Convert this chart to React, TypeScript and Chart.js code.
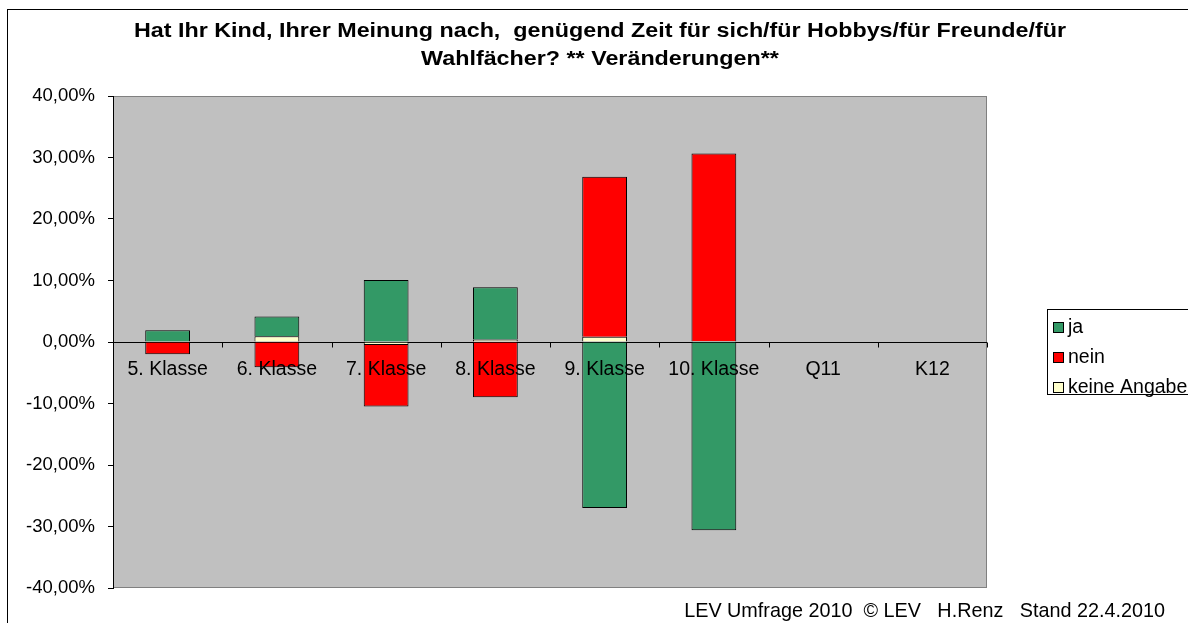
import React, { useEffect, useRef } from "react";
import { Chart, registerables } from "chart.js";
Chart.register(...registerables);

const categories = ["5. Klasse", "6. Klasse", "7. Klasse", "8. Klasse", "9. Klasse", "10. Klasse", "Q11", "K12"];
const jaValues = [0.019, 0.032, 0.101, 0.085, -0.27, -0.306, null, null];
const neinValues = [-0.02, -0.041, -0.1, -0.09, 0.26, 0.305, null, null];
const keineAngabeValues = [0.0, 0.0095, -0.005, 0.004, 0.0086, 0.0015, null, null];
const seriesNames = ["ja", "nein", "keine Angabe"];
const seriesColors = ["#339966", "#FF0000", "#FFFFCC"];
const titleLines = [
  "Hat Ihr Kind, Ihrer Meinung nach,  genügend Zeit für sich/für Hobbys/für Freunde/für",
  "Wahlfächer? ** Veränderungen**",
];
const footerText = "LEV Umfrage 2010  © LEV   H.Renz   Stand 22.4.2010";
const yMin = -0.4;
const yMax = 0.4;
const yStep = 0.1;

const FONT = '"Liberation Sans", Arial, sans-serif';

function fmtPct(v: number): string {
  const r = Math.round(v * 10000) / 100;
  const s = (r === 0 ? 0 : r).toFixed(2).replace(".", ",");
  return s + "%";
}

function stretchedText(ctx: any, text: string, x: number, y: number, sx: number) {
  ctx.save();
  ctx.translate(x, y);
  ctx.scale(sx, 1);
  ctx.fillText(text, 0, 0);
  ctx.restore();
}

const decorPlugin = {
  id: "excelDecor",
  beforeDraw(chart: any) {
    const { ctx, chartArea: a } = chart;
    ctx.save();
    ctx.fillStyle = "#FFFFFF";
    ctx.fillRect(0, 0, chart.width, chart.height);
    // outer chart border
    ctx.strokeStyle = "#000000";
    ctx.lineWidth = 1;
    ctx.strokeRect(7.5, 9.5, 1400, 800);
    // plot area
    ctx.fillStyle = "#C0C0C0";
    ctx.fillRect(a.left, a.top, a.right - a.left, a.bottom - a.top);
    ctx.strokeStyle = "#808080";
    ctx.strokeRect(a.left + 0.5, a.top + 0.5, a.right - a.left - 1, a.bottom - a.top - 1);
    // title
    ctx.fillStyle = "#000000";
    ctx.font = `bold 20px ${FONT}`;
    ctx.textAlign = "center";
    ctx.textBaseline = "middle";
    stretchedText(ctx, titleLines[0], 600, 31, 1.165);
    stretchedText(ctx, titleLines[1], 600, 59, 1.165);
    // footer
    ctx.font = `19.8px ${FONT}`;
    ctx.textAlign = "right";
    ctx.fillText(footerText, 1165, 612);
    ctx.restore();
  },
  beforeDatasetsDraw(chart: any) {
    const { ctx, chartArea: a, scales } = chart;
    const y0 = Math.round(scales.y.getPixelForValue(0)) + 0.5;
    ctx.save();
    ctx.strokeStyle = "#000000";
    ctx.lineWidth = 1;
    ctx.beginPath();
    ctx.moveTo(a.left, y0);
    ctx.lineTo(a.right, y0);
    const n = categories.length;
    const w = (a.right - a.left) / n;
    for (let i = 0; i <= n; i++) {
      const x = Math.round(a.left + i * w) + 0.5;
      ctx.moveTo(x, y0);
      ctx.lineTo(x, y0 + 5);
    }
    ctx.stroke();
    ctx.restore();
  },
  afterDatasetsDraw(chart: any) {
    const { ctx, scales } = chart;
    const y0 = scales.y.getPixelForValue(0);
    ctx.save();
    ctx.fillStyle = "#000000";
    ctx.font = `19.5px ${FONT}`;
    ctx.textAlign = "center";
    ctx.textBaseline = "middle";
    categories.forEach((c, i) => {
      ctx.fillText(c, scales.x.getPixelForValue(i), y0 + 28);
    });
    // legend
    ctx.fillStyle = "#FFFFFF";
    ctx.fillRect(1047, 309, 200, 85);
    ctx.strokeStyle = "#000000";
    ctx.strokeRect(1047.5, 309.5, 200, 85);
    ctx.font = `19.5px ${FONT}`;
    ctx.textAlign = "left";
    const ys = [327, 357, 387];
    seriesNames.forEach((name, i) => {
      ctx.fillStyle = seriesColors[i];
      ctx.fillRect(1054, ys[i] - 4, 9, 9);
      ctx.strokeStyle = "#000000";
      ctx.strokeRect(1053.5, ys[i] - 4.5, 10, 10);
      ctx.fillStyle = "#000000";
      ctx.fillText(name, 1068, ys[i] + 1);
    });
    ctx.restore();
  },
};

export default function App() {
  const ref = useRef<HTMLCanvasElement | null>(null);
  useEffect(() => {
    if (!ref.current) return;
    const chart = new Chart(ref.current, {
      type: "bar",
      data: {
        labels: categories,
        datasets: [
          { label: seriesNames[2], data: keineAngabeValues, backgroundColor: seriesColors[2], borderColor: "#000", borderWidth: 1 },
          { label: seriesNames[1], data: neinValues, backgroundColor: seriesColors[1], borderColor: "#000", borderWidth: 1 },
          { label: seriesNames[0], data: jaValues, backgroundColor: seriesColors[0], borderColor: "#000", borderWidth: 1 },
        ] as any,
      },
      options: {
        responsive: false,
        animation: false,
        events: [],
        layout: { padding: { left: 0, top: 96, right: 201, bottom: 35 } },
        datasets: { bar: { categoryPercentage: 1, barPercentage: 0.41 } },
        plugins: { legend: { display: false }, title: { display: false }, tooltip: { enabled: false } },
        scales: {
          x: { stacked: true, display: false },
          y: {
            stacked: true,
            min: yMin,
            max: yMax,
            afterFit: (s: any) => { s.width = 113; },
            ticks: {
              stepSize: yStep,
              color: "#000",
              font: { family: FONT, size: 18.5 },
              padding: 13,
              callback: (v: any) => fmtPct(Number(v)),
            },
            grid: { drawOnChartArea: false, color: "#000", tickLength: 5 },
            border: { display: true, color: "#000" },
          },
        },
      },
      plugins: [decorPlugin],
    });
    return () => chart.destroy();
  }, []);
  return (
    <div style={{ position: "fixed", left: 0, top: 0, width: 1188, height: 623 }}>
      <canvas ref={ref} width={1188} height={623} style={{ width: 1188, height: 623 }} />
    </div>
  );
}
